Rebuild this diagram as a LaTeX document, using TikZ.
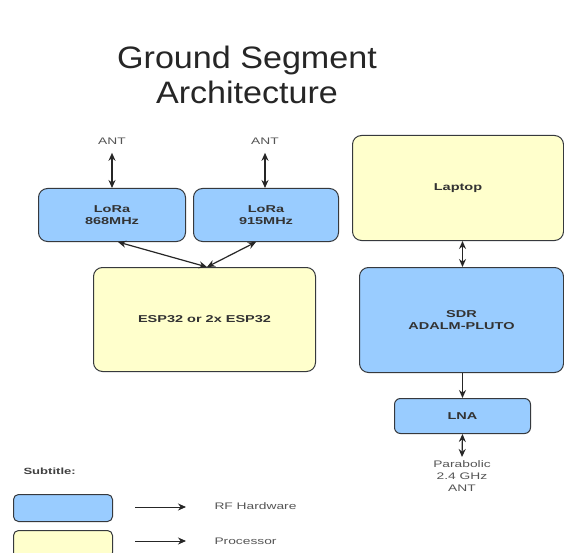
\documentclass[tikz,border=0pt]{standalone}
\usepackage{fontspec}
\setmainfont{Liberation Sans}
\newfontfamily\widesans[FakeStretch=1.45]{Liberation Sans}
\newfontfamily\titlesans[FakeStretch=1.1]{Liberation Sans}
\usetikzlibrary{arrows.meta}
\definecolor{rfblue}{HTML}{99CCFF}
\definecolor{procyellow}{HTML}{FFFFCC}
\definecolor{edge}{HTML}{36393D}
\definecolor{labelgray}{HTML}{555555}
\begin{document}
\begin{tikzpicture}[x=1pt,y=-1pt,
  box/.style={draw=edge, line width=1pt, rounded corners=9pt, inner sep=0pt,
    anchor=north west, font=\widesans\bfseries\fontsize{10}{12}\selectfont, text=black!80, align=center},
  rf/.style={box, fill=rfblue},
  proc/.style={box, fill=procyellow},
  lbl/.style={font=\widesans\fontsize{9.5}{12}\selectfont, text=labelgray, align=center},
  tip/.style={Stealth[length=8pt,width=7pt]},
  link/.style={line width=1.2pt, draw=black!85, -{Stealth[length=8pt,width=7pt]}},
  dlink/.style={link, {Stealth[length=8pt,width=7pt]}-{Stealth[length=8pt,width=7pt]}}]
\useasboundingbox (0,0) rectangle (564,553);
\fill[white] (0,0) rectangle (564,553);

% title
\node[font=\titlesans\fontsize{31}{35}\selectfont, text=black!85, align=center] (title) at (247,75)
  {Ground Segment\\Architecture};

% LoRa branch
\node[lbl] (ant1) at (112,141) {ANT};
\node[lbl] (ant2) at (265,141) {ANT};
\node[rf, minimum width=147pt, minimum height=53pt] (lora1) at (38,188) {LoRa\\868MHz};
\node[rf, minimum width=145pt, minimum height=53pt] (lora2) at (193,188) {LoRa\\915MHz};
\node[proc, minimum width=222pt, minimum height=104pt] (esp) at (93,267) {ESP32 or 2x ESP32};
\coordinate (espin) at (207,267);

\draw[dlink] (ant1.south) ++(0,5) coordinate (a1) -- (lora1.north -| a1);
\draw[dlink] (ant2.south) ++(0,5) coordinate (a2) -- (lora2.north -| a2);
\draw[dlink] (lora1.south) ++(6,0) coordinate (l1) (l1) -- (espin);
\draw[dlink] (lora2.south) ++(-10,0) coordinate (l2) (l2) -- (espin);

% SDR branch
\node[proc, minimum width=211pt, minimum height=105pt] (laptop) at (352,135) {Laptop};
\node[rf, minimum width=204pt, minimum height=105pt] (sdr) at (359,267) {SDR\\ADALM-PLUTO};
\node[rf, minimum width=136pt, minimum height=35pt, rounded corners=6pt] (lna) at (394,398) {LNA};
\node[lbl, anchor=north] (dish) at (462,457) {Parabolic\\2.4 GHz\\ANT};

\draw[dlink] (laptop.south -| lna.north) -- (sdr.north -| lna.north);
\draw[link] (sdr.south -| lna.north) -- (lna.north);
\draw[dlink] (lna.south) -- (dish.north);

% legend
\node[font=\widesans\bfseries\fontsize{9}{11}\selectfont, text=black!75, anchor=west] (sub) at (20,471) {Subtitle:};
\node[rf, minimum width=99pt, minimum height=27pt, rounded corners=5pt] (keyrf) at (13,494) {};
\node[proc, minimum width=99pt, minimum height=27pt, rounded corners=5pt] (keyproc) at (13,530) {};
\coordinate (rfa) at (135,507);
\coordinate (rfb) at (186,507);
\coordinate (pra) at (135,541);
\coordinate (prb) at (186,541);
\draw[link, line width=0.9pt] (rfa) -- (rfb);
\draw[link, line width=0.9pt] (pra) -- (prb);
\node[lbl, anchor=west] (rftxt) at (211,506) {RF Hardware};
\node[lbl, anchor=west] (prtxt) at (211,541) {Processor};
\end{tikzpicture}
\end{document}
